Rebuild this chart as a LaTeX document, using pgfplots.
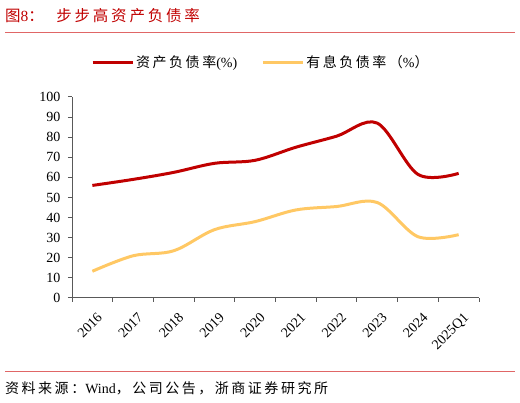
\documentclass[border=0pt]{standalone}
\usepackage{fontspec}
\setmainfont{Liberation Serif}
\newfontfamily\cjk{Noto Sans CJK SC}
\newfontfamily\cjkwide{Noto Sans CJK SC}[LetterSpace=18]
\usepackage{pgfplots}
\pgfplotsset{compat=1.18}
\definecolor{zsred}{HTML}{C00000}
\definecolor{zsline}{HTML}{E06666}
\definecolor{zsyel}{HTML}{FFC864}
\definecolor{axgray}{HTML}{595959}
\begin{document}
\begin{tikzpicture}[x=1pt,y=1pt]
\path[use as bounding box] (0,0) rectangle (520,403);
% title and rules
\node[anchor=west, text=zsred, font=\fontsize{15.5}{18}\selectfont, inner sep=0pt] at (5,387)
  {{\cjk 图}8{\cjk ：}\hspace{0.8em}{\cjkwide 步步高资产负债率}};
\draw[zsline, line width=0.8pt] (5,371) -- (515,371);
\draw[zsline, line width=0.8pt] (5,32) -- (515,32);
\node[anchor=west, font=\fontsize{14}{16}\selectfont, inner sep=0pt] at (5,15)
  {{\cjkwide 资料来源：}Wind{\cjkwide ，公司公告，浙商证券研究所}};
\begin{axis}[
  at={(72pt,105pt)}, anchor=south west,
  scale only axis, width=407pt, height=201pt,
  xmin=0, xmax=10, ymin=0, ymax=100,
  axis x line*=bottom, axis y line*=left,
  axis line style={axgray, line width=1pt},
  xtick={0,...,10},
  x tick label as interval=true,
  xticklabels={2016,2017,2018,2019,2020,2021,2022,2023,2024,2025Q1},
  ytick={0,10,...,100},
  tick align=outside,
  major tick length=4pt,
  tick style={axgray, line width=1pt},
  /pgf/number format/assume math mode=true,
  tick label style={font=\fontsize{14}{16}\selectfont},
  y tick label style={xshift=-4pt},
  x tick label style={xshift=4pt, yshift=-8pt, rotate=45, anchor=north east, inner sep=1pt},
  legend columns=2,
  legend style={at={(0.464,1)}, anchor=south, yshift=24pt, draw=none,
    font=\fontsize{14}{16}\selectfont\cjkwide,
    /tikz/every even column/.append style={column sep=22pt}},
  legend image code/.code={\draw[#1] (0pt,0pt) -- (40pt,0pt);},
]
\addplot[zsred, line width=3pt, smooth, tension=0.55] coordinates {
  (0.5,56) (1.5,59) (2.5,62.5) (3.5,67) (4.5,68.5)
  (5.5,75) (6.5,80.5) (7.5,87) (8.5,61.5) (9.5,62)};
\addlegendentry{资产负债率{\rmfamily(\%)}}
\addplot[zsyel, line width=3pt, smooth, tension=0.55] coordinates {
  (0.5,13.3) (1.5,21) (2.5,23.5) (3.5,34) (4.5,38)
  (5.5,43.8) (6.5,45.5) (7.5,47.5) (8.5,30.5) (9.5,31.5)};
\addlegendentry{有息负债率（{\rmfamily\%}）}
\end{axis}
\end{tikzpicture}
\end{document}
